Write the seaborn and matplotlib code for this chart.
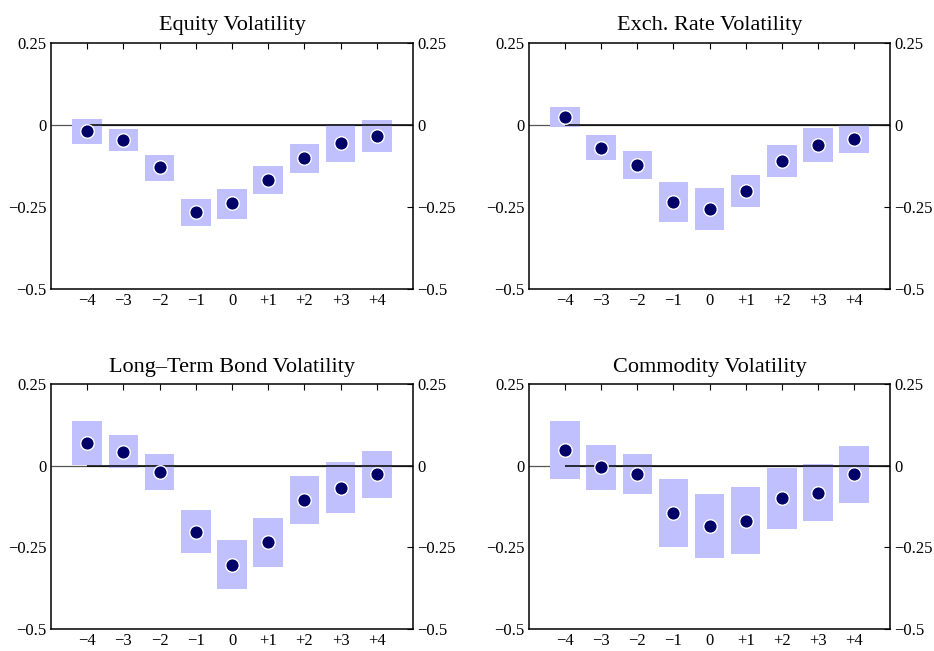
import matplotlib
matplotlib.use("Agg")
import matplotlib.pyplot as plt
import numpy as np
import pandas as pd
import seaborn as sns

# event-time horizons
horizons = [-4, -3, -2, -1, 0, 1, 2, 3, 4]
tick_labels = ["\u22124", "\u22123", "\u22122", "\u22121", "0", "+1", "+2", "+3", "+4"]

# Equity volatility: point estimate and band
equity_est = [-0.018, -0.046, -0.129, -0.266, -0.239, -0.168, -0.102, -0.055, -0.033]
equity_lo = [-0.058, -0.078, -0.170, -0.308, -0.286, -0.209, -0.146, -0.113, -0.081]
equity_hi = [0.019, -0.012, -0.091, -0.226, -0.194, -0.126, -0.058, 0.002, 0.015]

# Exchange rate volatility
fx_est = [0.024, -0.069, -0.121, -0.234, -0.257, -0.200, -0.111, -0.060, -0.044]
fx_lo = [-0.007, -0.107, -0.166, -0.295, -0.321, -0.249, -0.160, -0.112, -0.086]
fx_hi = [0.055, -0.030, -0.078, -0.174, -0.192, -0.151, -0.061, -0.008, -0.001]

# Long-term bond volatility
bond_est = [0.070, 0.043, -0.019, -0.202, -0.304, -0.235, -0.106, -0.067, -0.025]
bond_lo = [0.003, -0.008, -0.074, -0.268, -0.378, -0.311, -0.180, -0.146, -0.098]
bond_hi = [0.138, 0.095, 0.035, -0.137, -0.229, -0.161, -0.033, 0.011, 0.046]

# Commodity volatility
comm_est = [0.048, -0.004, -0.025, -0.144, -0.186, -0.168, -0.100, -0.083, -0.025]
comm_lo = [-0.041, -0.074, -0.087, -0.250, -0.284, -0.272, -0.193, -0.169, -0.113]
comm_hi = [0.138, 0.064, 0.035, -0.040, -0.088, -0.064, -0.008, 0.004, 0.061]

titles = ["Equity Volatility", "Exch. Rate Volatility",
          "Long\u2013Term Bond Volatility", "Commodity Volatility"]
y_ticks = [-0.5, -0.25, 0, 0.25]
y_tick_labels = ["\u22120.5", "\u22120.25", "0", "0.25"]

BOX_COLOR = "#c0c0ff"
DOT_COLOR = "#000068"

sns.set_style("white")
plt.rcParams["font.family"] = ["Liberation Serif", "DejaVu Serif"]
plt.rcParams["text.color"] = "black"
plt.rcParams["xtick.color"] = "black"
plt.rcParams["ytick.color"] = "black"

fig = plt.figure(figsize=(9.34, 6.51), dpi=100)
positions = [
    [0.0546, 0.556, 0.3876, 0.378],
    [0.5664, 0.556, 0.3865, 0.378],
    [0.0546, 0.034, 0.3876, 0.376],
    [0.5664, 0.034, 0.3865, 0.376],
]
panels = [
    (equity_est, equity_lo, equity_hi),
    (fx_est, fx_lo, fx_hi),
    (bond_est, bond_lo, bond_hi),
    (comm_est, comm_lo, comm_hi),
]

for pos, title, (est, lo, hi) in zip(positions, titles, panels):
    ax = fig.add_axes(pos)
    df = pd.DataFrame({"h": horizons, "est": est, "lo": lo, "hi": hi})
    # zero line: faint part behind the bands, then on top from -4 onward
    ax.axhline(0, color="#555555", lw=0.9, zorder=1)
    ax.bar(df["h"], df["hi"] - df["lo"], bottom=df["lo"], width=0.82,
           color=BOX_COLOR, edgecolor="none", zorder=2)
    ax.hlines(0, -4, 5, color="black", lw=1.1, zorder=3)
    sns.scatterplot(data=df, x="h", y="est", ax=ax, color=DOT_COLOR, s=95,
                    edgecolor="white", linewidth=1.0, zorder=4, legend=False)
    ax.set_xlim(-5, 5)
    ax.set_ylim(-0.5, 0.25)
    ax.set_xticks(horizons)
    ax.set_xticklabels(tick_labels)
    ax.set_yticks(y_ticks)
    ax.set_yticklabels(y_tick_labels)
    ax.set_xlabel("")
    ax.set_ylabel("")
    ax.tick_params(direction="in", top=True, right=True, labelright=True,
                   length=4, width=0.8, labelsize=12, pad=3, colors="black")
    for side in ["top", "bottom", "left", "right"]:
        ax.spines[side].set_visible(True)
        ax.spines[side].set_color("black")
        ax.spines[side].set_linewidth(1.1)
    ax.set_title(title, fontsize=16, pad=9, color="black")

fig.savefig("out.png", dpi=100)
